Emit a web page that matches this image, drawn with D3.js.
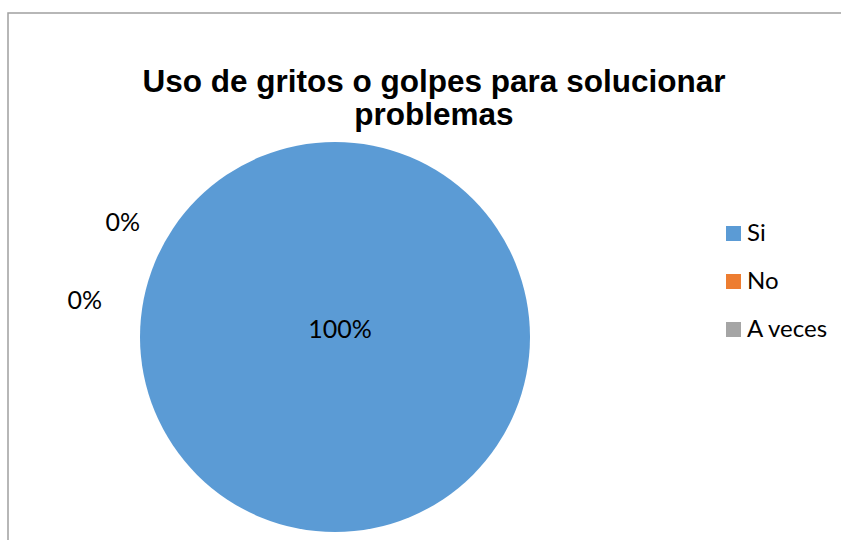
<!DOCTYPE html>
<html>
<head>
<meta charset="utf-8">
<script src="https://cdn.jsdelivr.net/npm/d3@7"></script>
<style>
  html, body { margin: 0; padding: 0; background: #fff; }
  svg { display: block; }
</style>
</head>
<body>
<svg id="chart" width="841" height="540"></svg>
<script>
const titleLines = ["Uso de gritos o golpes para solucionar", "problemas"];
const categories = ["Si", "No", "A veces"];
const values = [100, 0, 0];
const labels = ["100%", "0%", "0%"];
const colors = ["#5B9BD5", "#ED7D31", "#A5A5A5"];

const svg = d3.select("#chart");
const W = 841, H = 540;

// chart border (extends past right/bottom edges like the reference crop)
svg.append("rect")
  .attr("x", 8).attr("y", 13)
  .attr("width", W + 20).attr("height", H + 20)
  .attr("fill", "#fff")
  .attr("stroke", "#A0A0A0")
  .attr("stroke-width", 1.5);

// title
const title = svg.append("text")
  .attr("text-anchor", "middle")
  .attr("font-family", "'Liberation Sans', Arial, sans-serif")
  .attr("font-weight", "bold")
  .attr("font-size", 31.5)
  .attr("fill", "#000");
title.selectAll("tspan").data(titleLines).enter().append("tspan")
  .attr("x", 434)
  .attr("y", (d, i) => 92 + i * 33)
  .text(d => d);

// pie
const cx = 335, cy = 337, R = 195;
const g = svg.append("g").attr("transform", `translate(${cx},${cy})`);
const data = categories.map((c, i) => ({ cat: c, value: values[i], label: labels[i], color: colors[i] }));
const pie = d3.pie().sort(null).value(d => d.value);
const arcs = pie(data);
const arc = d3.arc().innerRadius(0).outerRadius(R);

g.selectAll("path.slice").data(arcs).enter().append("path")
  .attr("class", "slice")
  .attr("d", arc)
  .attr("fill", d => d.data.color);

// data labels: non-zero slice at centre; zero slices pushed outside to the left (as Excel does)
const outsidePlacement = [null, { r: 242, a: -1.070 }, { r: 253, a: -1.422 }];
const labelFont = "Lato, 'Open Sans', sans-serif";
g.selectAll("text.lbl").data(arcs).enter().append("text")
  .attr("class", "lbl")
  .attr("font-family", labelFont)
  .attr("font-size", 25)
  .attr("fill", "#000")
  .attr("text-anchor", "middle")
  .attr("dominant-baseline", "central")
  .attr("transform", (d, i) => {
    const p = outsidePlacement[i];
    if (!p) return `translate(5,-9)`;
    const pt = d3.arc().innerRadius(p.r).outerRadius(p.r).centroid({ startAngle: p.a, endAngle: p.a });
    return `translate(${pt[0]},${pt[1]})`;
  })
  .text(d => d.data.label);

// legend
const legend = svg.append("g").attr("transform", "translate(726,226)");
const items = legend.selectAll("g").data(data).enter().append("g")
  .attr("transform", (d, i) => `translate(0,${i * 48})`);
items.append("rect")
  .attr("width", 15).attr("height", 15)
  .attr("fill", d => d.color);
items.append("text")
  .attr("x", 21).attr("y", 15)
  .attr("font-family", labelFont)
  .attr("font-size", 24)
  .attr("fill", "#000")
  .text(d => d.cat);
</script>
</body>
</html>
